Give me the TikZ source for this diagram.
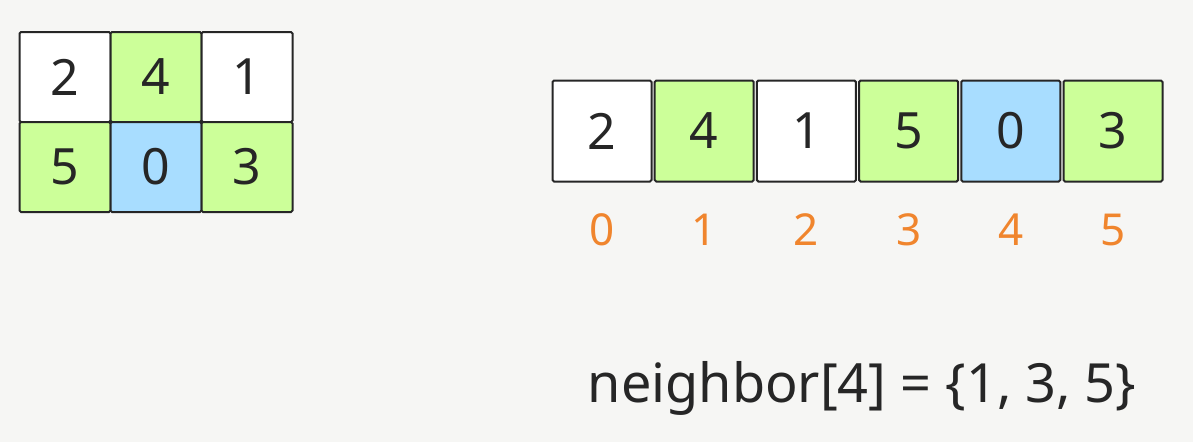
\documentclass[tikz,border=0pt]{standalone}
\usepackage{fontspec}
\setmainfont{Noto Sans}
\definecolor{paper}{HTML}{F6F6F4}
\definecolor{cellgreen}{HTML}{CCFF99}
\definecolor{cellblue}{HTML}{A8DDFF}
\definecolor{idxorange}{HTML}{F0852D}
\tikzset{
  cell/.style={draw=black!85, line width=2pt, rounded corners=1.5pt, inner sep=0pt,
    font=\fontsize{50}{50}\selectfont, text=black!85},
  gridcell/.style={cell, minimum width=91pt, minimum height=90pt},
  arrcell/.style={cell, minimum width=99pt, minimum height=101pt},
  idx/.style={text=idxorange, font=\fontsize{44}{44}\selectfont}
}
\begin{document}
\begin{tikzpicture}[x=1pt, y=-1pt]
  \fill[paper] (0,0) rectangle (1193,442);
  \useasboundingbox (0,0) rectangle (1193,442);
  % 2x3 board
  \foreach \c/\r/\lab/\col in {0/0/2/white, 1/0/4/cellgreen, 2/0/1/white,
                               0/1/5/cellgreen, 1/1/0/cellblue, 2/1/3/cellgreen}
    \node[gridcell, fill=\col] (g\c\r) at (65+91*\c, 77+90*\r) {\lab};
  % flattened state
  \foreach \i/\lab/\col in {0/2/white, 1/4/cellgreen, 2/1/white,
                            3/5/cellgreen, 4/0/cellblue, 5/3/cellgreen}
  {
    \node[arrcell, fill=\col] (a\i) at (602+102.2*\i, 131) {\lab};
    \node[idx] (i\i) at (602+102.2*\i, 230) {\i};
  }
  \node[font=\fontsize{54}{54}\selectfont, text=black!85] (nb) at (862, 388)
    {neighbor[4] = \{1, 3, 5\}};
\end{tikzpicture}
\end{document}
